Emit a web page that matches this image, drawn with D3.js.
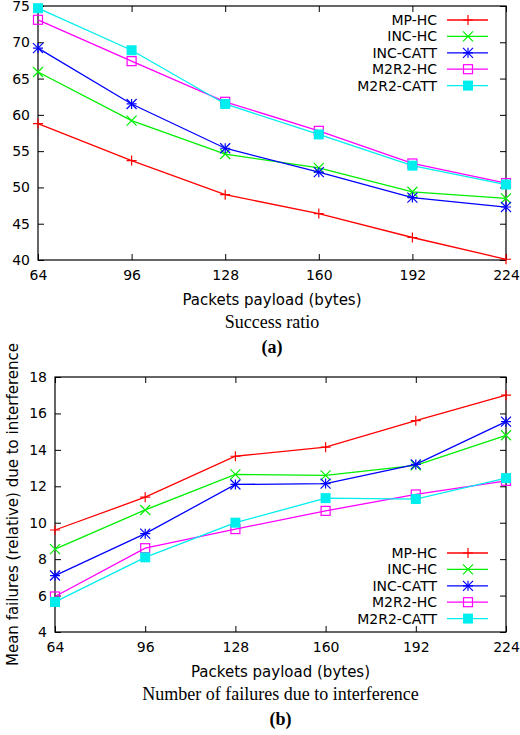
<!DOCTYPE html>
<html><head><meta charset="utf-8">
<script src="https://cdn.jsdelivr.net/npm/d3@7"></script>
<style>body{margin:0;background:#fff}</style>
</head><body>
<svg id="c" width="520" height="735"></svg>
<script>
// data
var payloads = [64, 96, 128, 160, 192, 224];
var seriesNames = ["MP-HC", "INC-HC", "INC-CATT", "M2R2-HC", "M2R2-CATT"];
var colors = ["#ff0000", "#00ee00", "#0000ff", "#ff00ff", "#00eeee"];
var markers = ["plus", "cross", "star", "square", "filled"];

var successMP = [58.8, 53.7, 49.0, 46.4, 43.1, 40.1];
var successINC = [65.9, 59.2, 54.6, 52.7, 49.4, 48.5];
var successINCC = [69.2, 61.5, 55.4, 52.1, 48.6, 47.3];
var successM2 = [73.1, 67.4, 61.8, 57.8, 53.3, 50.6];
var successM2C = [74.7, 68.9, 61.5, 57.3, 53.0, 50.4];

var failMP = [9.6, 11.4, 13.65, 14.15, 15.6, 17.0];
var failINC = [8.55, 10.7, 12.65, 12.6, 13.15, 14.8];
var failINCC = [7.1, 9.4, 12.1, 12.15, 13.2, 15.55];
var failM2 = [5.95, 8.6, 9.65, 10.65, 11.55, 12.3];
var failM2C = [5.65, 8.1, 10.0, 11.35, 11.3, 12.45];

var successTicks = [40, 45, 50, 55, 60, 65, 70, 75];
var failTicks = [4, 6, 8, 10, 12, 14, 16, 18];

var svg = d3.select("#c");

function marker(g, type, x, y, col) {
  var s = 5;
  if (type == "plus" || type == "star") {
    g.append("path").attr("d", "M" + (x - s) + "," + y + "h" + 2 * s + "M" + x + "," + (y - s) + "v" + 2 * s)
      .attr("stroke", col).attr("stroke-width", 1.2);
  }
  if (type == "cross" || type == "star") {
    g.append("path").attr("d", "M" + (x - s) + "," + (y - s) + "l" + 2 * s + "," + 2 * s + "M" + (x - s) + "," + (y + s) + "l" + 2 * s + "," + (-2 * s))
      .attr("stroke", col).attr("stroke-width", 1.2);
  }
  if (type == "square") {
    g.append("rect").attr("x", x - 4.5).attr("y", y - 4.5).attr("width", 9).attr("height", 9)
      .attr("fill", "none").attr("stroke", col).attr("stroke-width", 1.2);
  }
  if (type == "filled") {
    g.append("rect").attr("x", x - 5).attr("y", y - 5).attr("width", 10).attr("height", 10).attr("fill", col);
  }
}

function panel(o) {
  var x = d3.scaleLinear().domain([64, 224]).range([o.left, o.right]);
  var y = d3.scaleLinear().domain(o.domain).range([o.bottom, o.top]);
  var g = svg.append("g");

  // ticks (inward, on both sides like gnuplot)
  g.append("g").attr("transform", "translate(0," + o.bottom + ")")
    .call(d3.axisBottom(x).tickValues(payloads).tickSize(-6).tickPadding(10))
    .call(a => a.select(".domain").remove());
  g.append("g").attr("transform", "translate(0," + o.top + ")")
    .call(d3.axisTop(x).tickValues(payloads).tickSize(-6).tickFormat(""))
    .call(a => a.select(".domain").remove());
  g.append("g").attr("transform", "translate(" + o.left + ",0)")
    .call(d3.axisLeft(y).tickValues(o.ticks).tickSize(-6).tickPadding(8))
    .call(a => a.select(".domain").remove());
  g.append("g").attr("transform", "translate(" + o.right + ",0)")
    .call(d3.axisRight(y).tickValues(o.ticks).tickSize(-6).tickFormat(""))
    .call(a => a.select(".domain").remove());
  g.selectAll(".tick text").attr("font-family", "DejaVu Sans").attr("font-size", 14).attr("fill", "#000");
  g.selectAll(".tick line").attr("stroke", "#000");

  g.append("rect").attr("x", o.left).attr("y", o.top).attr("width", o.right - o.left).attr("height", o.bottom - o.top)
    .attr("fill", "none").attr("stroke", "#000").attr("stroke-width", 1.2);

  var line = d3.line().x((d, i) => x(payloads[i])).y(d => y(d));
  o.series.forEach(function (vals, k) {
    g.append("path").attr("d", line(vals)).attr("fill", "none").attr("stroke", colors[k]).attr("stroke-width", 1.3);
    vals.forEach((v, i) => marker(g, markers[k], x(payloads[i]), y(v), colors[k]));
    var ly = o.legendY + k * 16.4;
    g.append("text").attr("x", 437).attr("y", ly + 5).attr("text-anchor", "end")
      .attr("font-family", "DejaVu Sans").attr("font-size", 14).text(seriesNames[k]);
    g.append("line").attr("x1", 447).attr("x2", 488).attr("y1", ly).attr("y2", ly).attr("stroke", colors[k]).attr("stroke-width", 1.3);
    marker(g, markers[k], 468, ly, colors[k]);
  });

  var cx = (o.left + o.right) / 2;
  g.append("text").attr("x", cx).attr("y", o.bottom + 45).attr("text-anchor", "middle")
    .attr("font-family", "DejaVu Sans").attr("font-size", 15).text("Packets payload (bytes)");
  g.append("text").attr("x", cx).attr("y", o.bottom + 68).attr("text-anchor", "middle")
    .attr("font-family", "Liberation Serif").attr("font-size", 18).text(o.caption);
  g.append("text").attr("x", cx).attr("y", o.bottom + 93).attr("text-anchor", "middle")
    .attr("font-family", "Liberation Serif").attr("font-size", 18).attr("font-weight", "bold").text(o.tag);
  if (o.ylabel) {
    g.append("text").attr("transform", "translate(18," + ((o.top + o.bottom) / 2) + ") rotate(-90)")
      .attr("text-anchor", "middle").attr("font-family", "DejaVu Sans").attr("font-size", 15).text(o.ylabel);
  }
}

panel({left: 38, right: 506, top: 6, bottom: 260, domain: [40, 75], ticks: successTicks,
  series: [successMP, successINC, successINCC, successM2, successM2C],
  legendY: 20, caption: "Success ratio", tag: "(a)"});
panel({left: 55, right: 506, top: 377, bottom: 632, domain: [4, 18], ticks: failTicks,
  series: [failMP, failINC, failINCC, failM2, failM2C],
  legendY: 553, caption: "Number of failures due to interference", tag: "(b)",
  ylabel: "Mean failures (relative) due to interference"});
</script>
</body></html>
